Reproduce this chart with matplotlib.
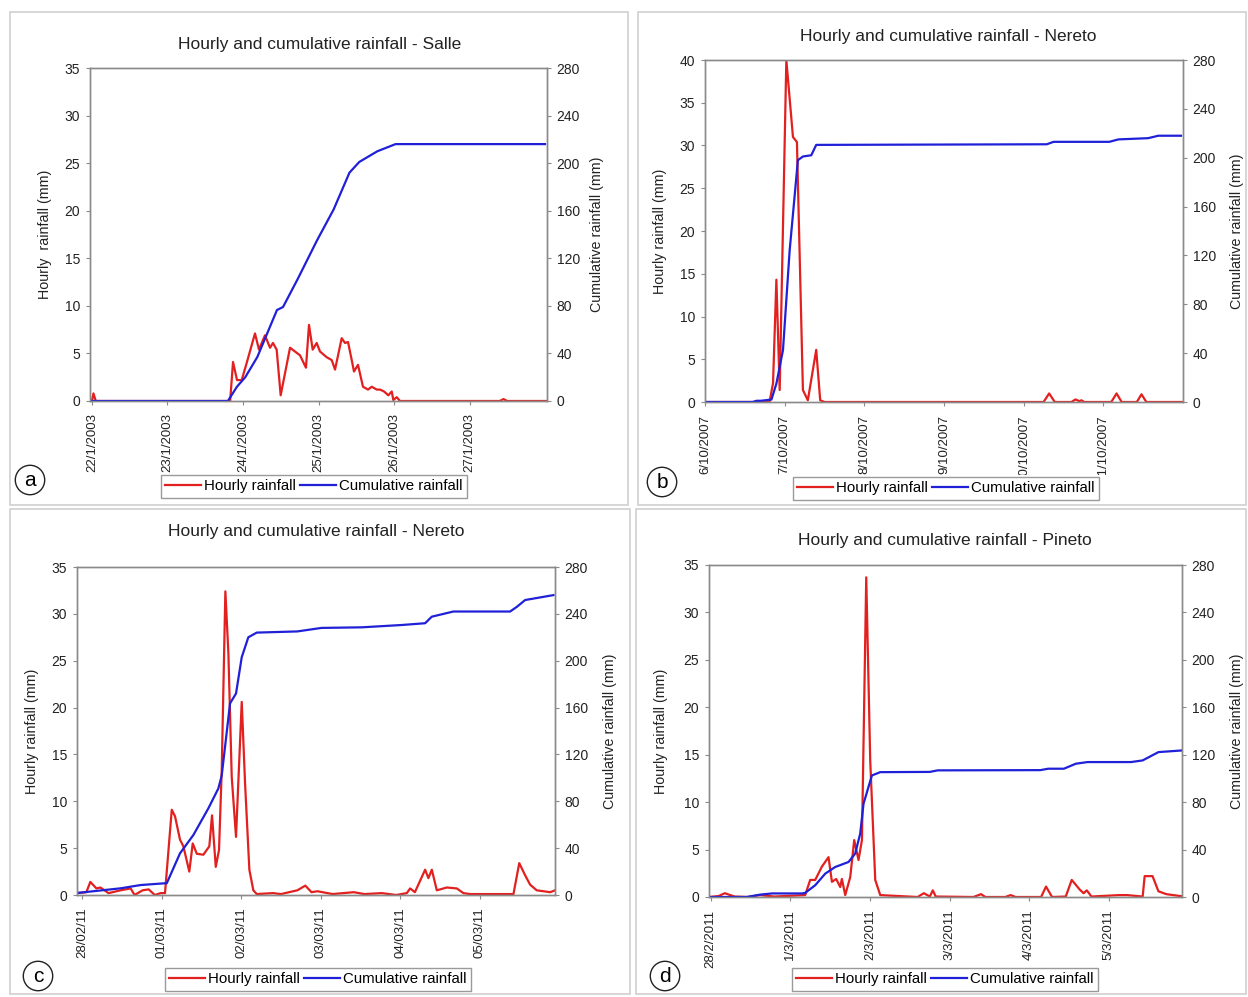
import matplotlib

matplotlib.use("Agg")
import matplotlib.pyplot as plt
from matplotlib.patches import Rectangle

plt.rcParams["font.family"] = ["Liberation Sans", "DejaVu Sans"]

W, H = 1248, 997
RED = "#e2201f"
BLUE = "#2020d8"
GREY = "#8a8a8a"

# ---- data (x in days from the first tick label) ----
SALLE_TICKS = ["22/1/2003", "23/1/2003", "24/1/2003", "25/1/2003", "26/1/2003", "27/1/2003"]
SALLE_RAIN_T = [0.0, 0.02, 0.05, 1.83, 1.868, 1.921, 1.983, 2.049, 2.159, 2.212, 2.291, 2.358,
                2.397, 2.446, 2.499, 2.623, 2.689, 2.755, 2.834, 2.874, 2.923, 2.976, 3.020,
                3.109, 3.175, 3.219, 3.307, 3.351, 3.391, 3.440, 3.470, 3.523, 3.589, 3.656,
                3.705, 3.771, 3.815, 3.868, 3.925, 3.970, 3.991, 4.036, 4.079, 5.40, 5.45,
                5.50, 6.03]
SALLE_RAIN = [0.0, 0.8, 0.0, 0.0, 4.1, 2.2, 2.2, 4.0, 7.1, 5.4, 6.9, 5.6, 6.1, 5.4, 0.6, 5.6,
              5.2, 4.8, 3.5, 8.0, 5.4, 6.1, 5.2, 4.6, 4.3, 3.3, 6.6, 6.1, 6.2, 4.3, 3.1, 3.8,
              1.5, 1.2, 1.5, 1.2, 1.2, 1.0, 0.6, 1.0, 0.1, 0.4, 0.0, 0.0, 0.2, 0.0, 0.0]
SALLE_CUM_T = [0.0, 1.80, 1.92, 2.03, 2.19, 2.45, 2.53, 2.72, 2.98, 3.20, 3.41, 3.54, 3.78,
               4.02, 6.0]
SALLE_CUM = [0, 0, 12, 20, 37, 76.5, 79, 102, 135, 161, 192, 201, 210, 216, 216]

NERETO07_TICKS = ["6/10/2007", "7/10/2007", "8/10/2007", "9/10/2007", "10/10/2007", "11/10/2007"]
NERETO07_RAIN_T = [0.0, 0.81, 0.854, 0.896, 0.9375, 1.021, 1.104, 1.154, 1.229, 1.291, 1.396,
                   1.446, 1.50, 4.25, 4.32, 4.39, 4.60, 4.65, 4.70, 4.725, 4.76, 5.10, 5.166,
                   5.23, 5.42, 5.479, 5.54, 6.0]
NERETO07_RAIN = [0, 0, 2.2, 14.3, 1.4, 40, 31, 30.4, 1.4, 0.2, 6.1, 0.2, 0, 0, 1.0, 0, 0, 0.3,
                 0.1, 0.2, 0, 0, 1.0, 0, 0, 0.9, 0, 0]
NERETO07_CUM_T = [0.0, 0.60, 0.646, 0.70, 0.834, 0.896, 0.979, 1.0625, 1.166, 1.229, 1.334,
                  1.396, 4.29, 4.375, 5.075, 5.19, 5.5625, 5.69, 5.975]
NERETO07_CUM = [0, 0, 1, 1, 2, 15, 42.6, 124, 198, 201, 202, 210.5, 211, 213, 213, 215, 216,
                218, 218]

NERETO11_TICKS = ["28/02/11", "01/03/11", "02/03/11", "03/03/11", "04/03/11", "05/03/11"]
NERETO11_RAIN_T = [-0.07, 0.05, 0.10, 0.176, 0.227, 0.329, 0.48, 0.607, 0.657, 0.758, 0.835,
                   0.911, 0.986, 1.04, 1.125, 1.166, 1.229, 1.271, 1.346, 1.389, 1.44, 1.523,
                   1.598, 1.632, 1.679, 1.72, 1.754, 1.80, 1.838, 1.88, 1.934, 2.006, 2.048,
                   2.102, 2.152, 2.195, 2.40, 2.50, 2.706, 2.807, 2.884, 2.96, 3.15, 3.416,
                   3.55, 3.77, 3.95, 4.084, 4.126, 4.186, 4.315, 4.356, 4.399, 4.462, 4.588,
                   4.714, 4.797, 4.88, 5.26, 5.427, 5.50, 5.574, 5.637, 5.72, 5.89, 5.95]
NERETO11_RAIN = [0.2, 0.3, 1.4, 0.7, 0.8, 0.2, 0.5, 0.7, 0.0, 0.5, 0.6, 0.0, 0.2, 0.2, 9.1,
                 8.4, 5.9, 5.2, 2.5, 5.5, 4.4, 4.3, 5.2, 8.5, 3.0, 4.8, 13.3, 32.4, 25.8, 12.6,
                 6.2, 20.6, 11.9, 2.7, 0.5, 0.1, 0.2, 0.1, 0.5, 1.0, 0.3, 0.4, 0.1, 0.3, 0.1,
                 0.2, 0.0, 0.2, 0.7, 0.3, 2.7, 1.8, 2.7, 0.5, 0.8, 0.7, 0.2, 0.1, 0.1, 0.1,
                 3.4, 2.1, 1.1, 0.5, 0.3, 0.5]
NERETO11_CUM_T = [-0.07, 0.48, 0.733, 1.037, 1.062, 1.229, 1.397, 1.586, 1.712, 1.754, 1.859,
                  1.934, 2.006, 2.089, 2.195, 2.706, 3.01, 3.516, 4.023, 4.315, 4.399, 4.671,
                  5.385, 5.47, 5.574, 5.93]
NERETO11_CUM = [1.7, 5.7, 8.5, 10, 10, 35.6, 51.2, 74, 91, 102, 163.6, 172, 203, 220, 224,
                225, 228, 228.5, 230.5, 232, 237.6, 242, 242, 246, 251.8, 256]

PINETO_TICKS = ["28/2/2011", "1/3/2011", "2/3/2011", "3/3/2011", "4/3/2011", "5/3/2011"]
PINETO_RAIN_T = [-0.02, 0.10, 0.177, 0.30, 0.471, 0.622, 0.80, 1.187, 1.25, 1.313, 1.397,
                 1.48, 1.523, 1.577, 1.627, 1.648, 1.69, 1.753, 1.803, 1.857, 1.90, 1.954,
                 2.004, 2.067, 2.13, 2.60, 2.677, 2.753, 2.79, 2.827, 3.30, 3.396, 3.45, 3.70,
                 3.768, 3.83, 4.15, 4.212, 4.288, 4.46, 4.535, 4.634, 4.683, 4.724, 4.783,
                 5.13, 5.229, 5.426, 5.451, 5.55, 5.624, 5.724, 5.897, 5.92]
PINETO_RAIN = [0, 0.1, 0.4, 0.05, 0, 0.2, 0.05, 0.2, 1.8, 1.8, 3.2, 4.2, 1.6, 1.9, 1.05, 1.9,
               0.2, 2.1, 6.0, 3.9, 6.0, 33.7, 14.4, 1.8, 0.2, 0.0, 0.4, 0.05, 0.7, 0.05, 0,
               0.3, 0, 0, 0.2, 0, 0, 1.1, 0, 0.05, 1.8, 0.8, 0.4, 0.7, 0.05, 0.2, 0.2, 0.05,
               2.2, 2.2, 0.6, 0.3, 0.1, 0.1]
PINETO_CUM_T = [-0.02, 0.45, 0.622, 0.77, 1.15, 1.187, 1.313, 1.439, 1.564, 1.731, 1.815,
                1.878, 1.92, 2.025, 2.13, 2.753, 2.852, 4.141, 4.24, 4.437, 4.586, 4.733,
                5.28, 5.426, 5.624, 5.92]
PINETO_CUM = [0, 0, 2, 3, 3, 3.5, 9.9, 19.7, 25.3, 29.5, 36.6, 53.4, 78.7, 102.5, 105.3,
              105.5, 106.8, 107, 108.2, 108.2, 112.4, 113.8, 113.8, 115.2, 122.2, 123.6]


def fx(x):
    return x / W


def fy(y):
    return 1 - y / H


fig = plt.figure(figsize=(W / 100, H / 100), dpi=100)

# panel frames (pixel boxes)
for x0, y0, x1, y1 in [(10, 12, 628, 505), (638, 12, 1246, 505),
                       (10, 509, 630, 994), (636, 509, 1246, 994)]:
    fig.patches.append(Rectangle((fx(x0), fy(y1)), fx(x1 - x0), (y1 - y0) / H,
                                 transform=fig.transFigure, fill=False,
                                 ec="#cfcfcf", lw=1.2))

panels = [
    dict(box=(90, 68, 547, 401), xlim=(-0.026, 6.026), ymax=35, title="Salle",
         tpos=(320, 45), ylab="Hourly  rainfall (mm)", ylx=45, yrx=597, leg=(314, 486),
         letter=("a", 30, 480), ticks=SALLE_TICKS,
         data=(SALLE_RAIN_T, SALLE_RAIN, SALLE_CUM_T, SALLE_CUM), clip=None),
    dict(box=(705, 60, 1183, 402), xlim=(0.0, 6.0), ymax=40, title="Nereto",
         tpos=(948, 36), ylab="Hourly rainfall (mm)", ylx=660, yrx=1237, leg=(946, 488),
         letter=("b", 662, 482), ticks=NERETO07_TICKS,
         data=(NERETO07_RAIN_T, NERETO07_RAIN, NERETO07_CUM_T, NERETO07_CUM), clip=475),
    dict(box=(77, 567, 555, 895), xlim=(-0.068, 5.95), ymax=35, title="Nereto",
         tpos=(316, 531), ylab="Hourly rainfall (mm)", ylx=32, yrx=610, leg=(318, 979),
         letter=("c", 38, 976), ticks=NERETO11_TICKS,
         data=(NERETO11_RAIN_T, NERETO11_RAIN, NERETO11_CUM_T, NERETO11_CUM), clip=None),
    dict(box=(709, 565, 1182, 897), xlim=(-0.021, 5.92), ymax=35, title="Pineto",
         tpos=(945, 541), ylab="Hourly rainfall (mm)", ylx=661, yrx=1237, leg=(945, 979),
         letter=("d", 665, 976), ticks=PINETO_TICKS,
         data=(PINETO_RAIN_T, PINETO_RAIN, PINETO_CUM_T, PINETO_CUM), clip=None),
]

for p in panels:
    l, t, r, b = p["box"]
    ax = fig.add_axes([fx(l), fy(b), fx(r - l), (b - t) / H])
    ax2 = ax.twinx()
    rt, rv, ct, cv = p["data"]
    h1, = ax.plot(rt, rv, color=RED, lw=1.6, label="Hourly rainfall")
    h2, = ax2.plot(ct, cv, color=BLUE, lw=1.6, label="Cumulative rainfall")
    ax.set_xlim(*p["xlim"])
    ax.set_ylim(0, p["ymax"])
    ax.set_yticks(range(0, p["ymax"] + 1, 5))
    ax2.set_ylim(0, 280)
    ax2.set_yticks(range(0, 281, 40))
    ax.set_xticks(range(6))
    ax.set_xticklabels(p["ticks"], rotation=90, va="top", ha="center")
    for a in (ax, ax2):
        for s in a.spines.values():
            s.set_color(GREY)
            s.set_linewidth(1.0)
        a.tick_params(axis="both", colors=GREY, labelcolor="#222222", labelsize=10,
                      length=3, width=0.8, direction="out", pad=4)
    ax.tick_params(axis="x", labelsize=9.5, pad=6)
    if p["clip"] is not None:
        # the bottom of the date labels is cut off in this panel
        clip_rect = Rectangle((0, fy(p["clip"])), 1, 1, transform=fig.transFigure)
        for lab in ax.get_xticklabels():
            lab.set_clip_on(True)
            lab.set_clip_path(clip_rect)

    fig.text(fx(p["tpos"][0]), fy(p["tpos"][1]),
             f"Hourly and cumulative rainfall - {p['title']}",
             ha="center", va="center", fontsize=12.5, color="#222222")
    fig.text(fx(p["ylx"]), fy((t + b) / 2), p["ylab"], rotation=90,
             ha="center", va="center", fontsize=10.3, color="#222222")
    fig.text(fx(p["yrx"]), fy((t + b) / 2), "Cumulative rainfall (mm)", rotation=90,
             ha="center", va="center", fontsize=10.3, color="#222222")

    leg = fig.legend([h1, h2], ["Hourly rainfall", "Cumulative rainfall"], ncol=2,
                     loc="center", bbox_to_anchor=(fx(p["leg"][0]), fy(p["leg"][1])),
                     fontsize=10.8, handlelength=2.4, handletextpad=0.2, columnspacing=0.3,
                     borderpad=0.3, fancybox=False, framealpha=1, edgecolor="#9a9a9a")
    leg.get_frame().set_linewidth(1.0)

    letter, lx, ly = p["letter"]
    fig.text(fx(lx), fy(ly), letter, ha="center", va="center", fontsize=15,
             bbox=dict(boxstyle="circle,pad=0.25", fc="white", ec="#222222", lw=1.0))

fig.savefig("out.png", dpi=100)
